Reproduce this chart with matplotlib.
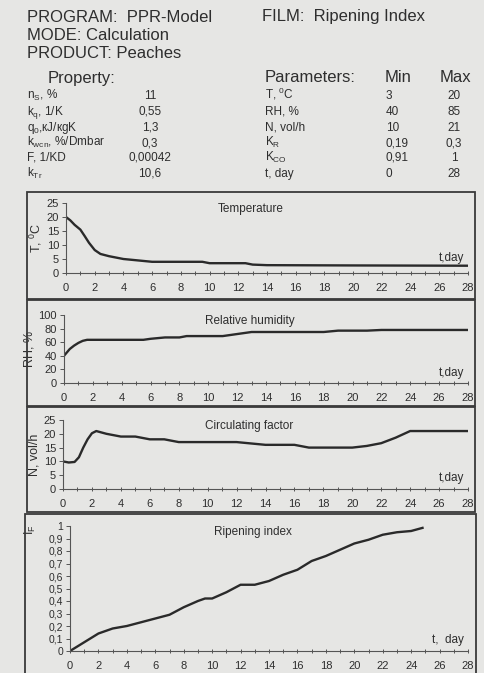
import matplotlib.pyplot as plt
from matplotlib.patches import Rectangle
from matplotlib.ticker import MultipleLocator, FuncFormatter

plt.rcParams['font.family'] = ['Liberation Sans', 'DejaVu Sans']
plt.rcParams['mathtext.fontset'] = 'custom'
plt.rcParams['mathtext.rm'] = 'Liberation Sans'
plt.rcParams['mathtext.it'] = 'Liberation Sans:italic'

W, H = 484, 673
BG = '#e6e6e4'
INK = '#2e2e2e'

# header table
prop_names = [r'n$_\mathrm{S}$, %', r'k$_\mathrm{q}$, 1/K', r'q$_\mathrm{0}$,кJ/кgK',
              r'k$_\mathrm{wcn}$, %/Dmbar', 'F, 1/KD', r'k$_\mathrm{Tr}$']
prop_values = ['11', '0,55', '1,3', '0,3', '0,00042', '10,6']
param_names = [r'T, $^\mathrm{0}$C', 'RH, %', 'N, vol/h', r'K$_\mathrm{R}$',
               r'K$_\mathrm{CO}$', 't, day']
param_min = ['3', '40', '10', '0,19', '0,91', '0']
param_max = ['20', '85', '21', '0,3', '1', '28']

# curves (day, value)
temp_t = [0, 0.3, 0.6, 1.0, 1.3, 1.6, 2.0, 2.4, 3.0, 3.5, 4.0, 5.0, 6.0, 7.0, 8.0, 9.5, 10.0,
          11.0, 12.5, 13.0, 14.0, 20.0, 28.0]
temp_v = [20, 18.8, 17.2, 15.5, 13.2, 10.8, 8.2, 6.8, 6.0, 5.5, 5.0, 4.5, 4.0, 4.0, 4.0, 4.0,
          3.5, 3.5, 3.5, 3.0, 2.8, 2.7, 2.6]
rh_t = [0, 0.2, 0.4, 0.7, 1.0, 1.3, 1.6, 2.0, 5.5, 6.0, 7.0, 8.0, 8.5, 10.0, 11.0, 12.0, 13.0,
        18.0, 19.0, 21.0, 22.0, 28.0]
rh_v = [40, 45, 50, 55, 59, 62, 63.5, 63.5, 63.5, 65, 67, 67, 69, 69, 69, 72, 75, 75, 77, 77,
        78, 78]
n_t = [0, 0.4, 0.8, 1.1, 1.4, 1.7, 2.0, 2.3, 3.0, 4.0, 5.0, 6.0, 7.0, 8.0, 12.0, 13.0, 14.0,
       16.0, 17.0, 20.0, 21.0, 22.0, 23.0, 24.0, 28.0]
n_v = [10, 9.6, 9.8, 11.5, 15, 18, 20.2, 21, 20, 19, 19, 18, 18, 17, 17, 16.5, 16, 16, 15, 15,
       15.6, 16.6, 18.6, 21, 21]
rip_t = [0, 1, 2, 3, 4, 5, 6, 7, 8, 9, 9.5, 10, 11, 12, 13, 14, 15, 16, 17, 18, 19, 20, 21,
         22, 23, 24, 24.8]
rip_v = [0, 0.07, 0.14, 0.18, 0.2, 0.23, 0.26, 0.29, 0.35, 0.4, 0.42, 0.42, 0.47, 0.53, 0.53,
         0.56, 0.61, 0.65, 0.72, 0.76, 0.81, 0.86, 0.89, 0.93, 0.95, 0.96, 0.985]


def fx(x):
    return x / W


def fy(y):
    return 1 - y / H


fig = plt.figure(figsize=(W / 100, H / 100), dpi=100, facecolor=BG)

# header text
fig.text(fx(27), fy(17), 'PROGRAM:  PPR-Model', fontsize=12, color=INK, va='center')
fig.text(fx(262), fy(17), 'FILM:  Ripening Index', fontsize=12, color=INK, va='center')
fig.text(fx(27), fy(35), 'MODE: Calculation', fontsize=12, color=INK, va='center')
fig.text(fx(27), fy(53), 'PRODUCT: Peaches', fontsize=12, color=INK, va='center')
fig.text(fx(48), fy(78), 'Property:', fontsize=12, color=INK, va='center')
fig.text(fx(265), fy(78), 'Parameters:', fontsize=12, color=INK, va='center')
fig.text(fx(385), fy(78), 'Min', fontsize=12, color=INK, va='center')
fig.text(fx(440), fy(78), 'Max', fontsize=12, color=INK, va='center')

rows_y = [99, 115, 131, 146, 161, 177]  # baselines
for i, y in enumerate(rows_y):
    fig.text(fx(27), fy(y), prop_names[i], fontsize=8.5, color=INK, va='baseline')
    fig.text(fx(150), fy(y), prop_values[i], fontsize=8.5, color=INK, va='baseline',
             ha='center')
    fig.text(fx(265), fy(y), param_names[i], fontsize=8.5, color=INK, va='baseline')
    fig.text(fx(386), fy(y), param_min[i], fontsize=8.5, color=INK, va='baseline')
    fig.text(fx(454), fy(y), param_max[i], fontsize=8.5, color=INK, va='baseline',
             ha='center')

# panel boxes
for x0, y0, x1, y1 in [(27, 192, 475, 299), (27, 300, 475, 406), (27, 407, 475, 512),
                       (25, 514, 476, 690)]:
    fig.add_artist(Rectangle((fx(x0), fy(y1)), fx(x1 - x0), (y1 - y0) / H,
                             transform=fig.transFigure, fill=False, ec='#3a3a3a', lw=1.3))


def make_axes(left, top, bottom, t, v, ymax, ystep, ylabel, title, tlabel, ty, comma=False):
    ax = fig.add_axes([fx(left), fy(bottom), fx(468 - left), (bottom - top) / H])
    ax.set_facecolor('none')
    ax.plot(t, v, color='#2a2a2a', lw=1.7)
    ax.set_xlim(0, 28)
    ax.set_ylim(0, ymax)
    ax.xaxis.set_major_locator(MultipleLocator(2))
    ax.xaxis.set_minor_locator(MultipleLocator(1))
    ax.yaxis.set_major_locator(MultipleLocator(ystep))
    if comma:
        ax.yaxis.set_major_formatter(FuncFormatter(
            lambda val, pos: ('%g' % round(val, 1)).replace('.', ',')))
    for s in ['top', 'right']:
        ax.spines[s].set_visible(False)
    for s in ['left', 'bottom']:
        ax.spines[s].set_color('#555555')
        ax.spines[s].set_linewidth(0.8)
    ax.tick_params(axis='x', which='both', direction='inout', length=3, width=0.7,
                   color='#555555', labelsize=8, labelcolor=INK, pad=6)
    ax.tick_params(axis='y', direction='out', length=3, width=0.7, color='#555555',
                   labelsize=8, labelcolor=INK, pad=2)
    ax.set_ylabel(ylabel, fontsize=9, color=INK, labelpad=2)
    ax.text(0.46, 1.0, title, transform=ax.transAxes, ha='center', va='top', fontsize=8.5,
            color=INK)
    ax.text(0.99, ty, tlabel, transform=ax.transAxes, ha='right', va='center', fontsize=8.5,
            color=INK)
    return ax


make_axes(66, 203, 273, temp_t, temp_v, 25, 5, r'T, $^\mathrm{0}$C', 'Temperature',
          't,day', 0.22)
make_axes(64, 315, 383, rh_t, rh_v, 100, 20, 'RH, %', 'Relative humidity', 't,day', 0.15)
make_axes(63, 420, 489, n_t, n_v, 25, 5, 'N, vol/h', 'Circulating factor', 't,day', 0.16)
ax4 = make_axes(70, 526, 651, rip_t, rip_v, 1, 0.1, r'I$_\mathrm{F}$', 'Ripening index',
                't,  day', 0.09, comma=True)
ax4.tick_params(axis='y', labelsize=7.5)
ax4.yaxis.set_label_coords(-0.08, 0.97)

fig.savefig('out.png', dpi=100, facecolor=BG)
